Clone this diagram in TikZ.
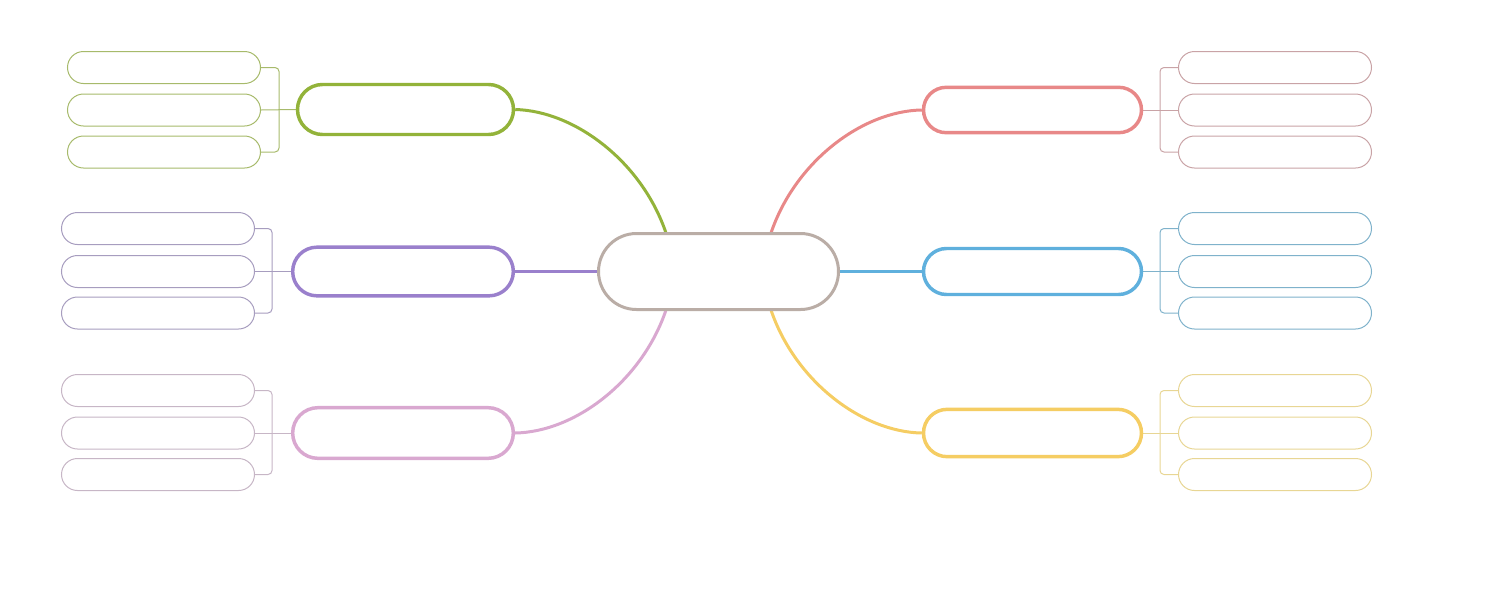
\documentclass[tikz,border=0pt]{standalone}
\usetikzlibrary{backgrounds}
\definecolor{cenc}{HTML}{BAADA6}
\definecolor{grn}{HTML}{93B33A}\definecolor{grns}{HTML}{A7BA6B}
\definecolor{red1}{HTML}{E88888}\definecolor{reds}{HTML}{C9A3A6}
\definecolor{pur}{HTML}{9A80CC}\definecolor{purs}{HTML}{A79DBF}
\definecolor{blu}{HTML}{5FB0DD}\definecolor{blus}{HTML}{7FB2CB}
\definecolor{pnk}{HTML}{D9A8D0}\definecolor{pnks}{HTML}{C7B6C6}
\definecolor{yel}{HTML}{F5CD63}\definecolor{yels}{HTML}{E8D694}
\tikzset{
  centerbox/.style={draw=cenc,line width=2.25pt,fill=white,minimum width=180pt,minimum height=57pt,rounded corners=28.5pt,inner sep=0pt},
  mainbox/.style={line width=2.6pt,fill=white,inner sep=0pt,minimum width=#1},
  subbox/.style={line width=0.75pt,fill=white,minimum width=144.75pt,minimum height=24pt,rounded corners=12pt,inner sep=0pt},
  branch/.style={line width=2.25pt},
  bracket/.style={line width=0.75pt,rounded corners=3pt}
}
\begin{document}
\begin{tikzpicture}[x=0.75pt,y=-0.75pt]
\useasboundingbox (0,0) rectangle (1490,597);
% central
\node[centerbox] (c) at (718.5,271.5) {};
% main nodes
\node[mainbox=162pt,draw=grn,minimum height=37.5pt,rounded corners=18.75pt] (gm) at (405.5,109.5) {};
\node[mainbox=165.5pt,draw=pur,minimum height=36.5pt,rounded corners=18.25pt] (um) at (403,271.5) {};
\node[mainbox=165.5pt,draw=pnk,minimum height=38pt,rounded corners=19pt] (pm) at (403,433) {};
\node[mainbox=163.5pt,draw=red1,minimum height=34pt,rounded corners=17pt] (rm) at (1032.5,110) {};
\node[mainbox=163.5pt,draw=blu,minimum height=34.5pt,rounded corners=17.25pt] (bm) at (1032.5,271.5) {};
\node[mainbox=163.5pt,draw=yel,minimum height=35.5pt,rounded corners=17.75pt] (ym) at (1032.5,433) {};
% sub nodes
\foreach \n/\y in {1/67.5,2/110,3/152}{
  \node[subbox,draw=grns] (g\n) at (164,\y) {};
  \node[subbox,draw=reds] (r\n) at (1275,\y) {};
}
\foreach \n/\y in {1/228.5,2/271.5,3/313}{
  \node[subbox,draw=purs] (u\n) at (158,\y) {};
  \node[subbox,draw=blus] (b\n) at (1275,\y) {};
}
\foreach \n/\y in {1/390.5,2/433,3/474.5}{
  \node[subbox,draw=pnks] (p\n) at (158,\y) {};
  \node[subbox,draw=yels] (y\n) at (1275,\y) {};
}
% bracket coordinates
\coordinate (gb) at (279,110);
\coordinate (ub) at (272,271.5);
\coordinate (pb) at (272,433);
\coordinate (rb) at (1160,110);
\coordinate (bb) at (1160,271.5);
\coordinate (yb) at (1160,433);
% connection points on central node
\coordinate (ctl) at (666,233);
\coordinate (ctr) at (771,233);
\coordinate (cbl) at (666,310);
\coordinate (cbr) at (771,310);
\begin{scope}[on background layer]
  \draw[branch,grn] (gm.east) .. controls (575,111) and (642,162) .. (ctl);
  \draw[branch,red1] (rm.west) .. controls (862,111) and (795,162) .. (ctr);
  \draw[branch,pnk] (pm.east) .. controls (575,432) and (642,381) .. (cbl);
  \draw[branch,yel] (ym.west) .. controls (862,432) and (795,381) .. (cbr);
  \draw[branch,pur] (um.east) -- (c.west);
  \draw[branch,blu] (c.east) -- (bm.west);
  % brackets
  \draw[bracket,grns] (g1.east) -| (gb) |- (g3.east);
  \draw[bracket,grns] (g2.east) -- (gm.west);
  \draw[bracket,purs] (u1.east) -| (ub) |- (u3.east);
  \draw[bracket,purs] (u2.east) -- (um.west);
  \draw[bracket,pnks] (p1.east) -| (pb) |- (p3.east);
  \draw[bracket,pnks] (p2.east) -- (pm.west);
  \draw[bracket,reds] (r1.west) -| (rb) |- (r3.west);
  \draw[bracket,reds] (r2.west) -- (rm.east);
  \draw[bracket,blus] (b1.west) -| (bb) |- (b3.west);
  \draw[bracket,blus] (b2.west) -- (bm.east);
  \draw[bracket,yels] (y1.west) -| (yb) |- (y3.west);
  \draw[bracket,yels] (y2.west) -- (ym.east);
\end{scope}
\end{tikzpicture}
\end{document}
